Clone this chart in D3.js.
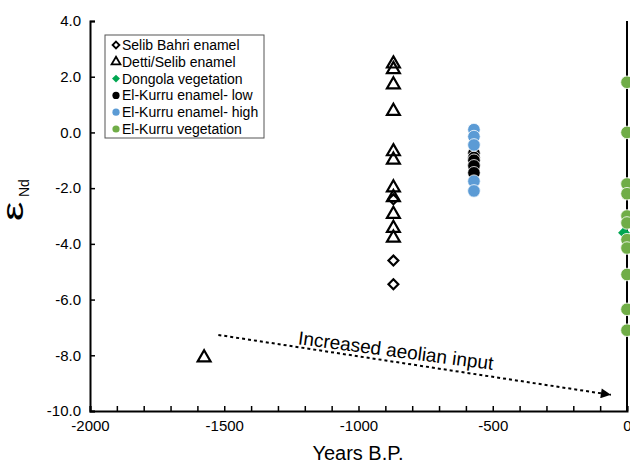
<!DOCTYPE html>
<html><head><meta charset="utf-8">
<script src="https://cdn.jsdelivr.net/npm/d3@7"></script>
<style>
html,body{margin:0;padding:0;background:#fff;}
text{font-family:"Liberation Sans",Arial,sans-serif;}
</style></head>
<body><svg id="c" width="630" height="461"></svg>
<script>
// ---- data ----
const xTicks = [-2000, -1500, -1000, -500, 0];
const yTicks = [4, 2, 0, -2, -4, -6, -8, -10];
const selibX = [-870, -870, -870];
const selibY = [-2.4, -4.6, -5.45];
const dettiX = [-870,-870,-870,-870,-870,-870,-870,-870,-870,-870,-870,-1575];
const dettiY = [2.5, 2.3, 1.75, 0.8, -0.65, -0.95, -1.95, -2.3, -2.9, -3.4, -3.75, -8.05];
const dongolaX = [0];
const dongolaY = [-3.6];
const kurruLowX = [-570,-570,-570,-570,-570];
const kurruLowY = [-0.75, -0.9, -1.0, -1.2, -1.45];
const kurruHighX = [-570,-570,-570,-570,-570];
const kurruHighY = [0.1, -0.15, -0.45, -1.75, -2.1];
const vegX = [0,0,0,0,0,0,0,0,0,0,0];
const vegY = [1.8, 0.0, -1.85, -2.2, -3.0, -3.25, -3.85, -4.15, -5.1, -6.35, -7.1];
const legendLabels = ["Selib Bahri enamel","Detti/Selib enamel","Dongola vegetation","El-Kurru enamel- low","El-Kurru enamel- high","El-Kurru vegetation"];
const arrowFrom = [-1522, -7.27];
const arrowTo = [-60, -9.42];
const arrowLabel = "Increased aeolian input";

const svg = d3.select("#c");
const x = d3.scaleLinear().domain([-2000, 0]).range([90, 627]);
const y = d3.scaleLinear().domain([-10, 4]).range([411, 21]);

// axes
const xAxis = d3.axisBottom(x).tickValues(d3.range(-2000, 1, 100)).tickSize(-5).tickFormat(d => xTicks.includes(d) ? String(d) : "");
const gx = svg.append("g").attr("transform", `translate(0,${y(-10)})`).call(xAxis);
gx.select(".domain").attr("stroke","#000").attr("stroke-width",2);
gx.selectAll(".tick line").attr("stroke","#000").attr("stroke-width",1.5);
gx.selectAll(".tick text").attr("font-size",15).attr("fill","#000").attr("dy","1.1em")
  .text(d => xTicks.includes(d) ? String(d) : "");

const yAxis = d3.axisLeft(y).tickValues(yTicks).tickSize(-5).tickPadding(9);
const gy = svg.append("g").attr("transform", `translate(${x(-2000)},0)`).call(yAxis);
gy.select(".domain").attr("stroke","#000").attr("stroke-width",2);
gy.selectAll(".tick line").attr("stroke","#000").attr("stroke-width",1.5);
gy.selectAll(".tick text").attr("font-size",15).attr("fill","#000").text(d => d.toFixed(1));

// right vertical line
svg.append("line").attr("x1", x(0)).attr("x2", x(0)).attr("y1", y(4)).attr("y2", y(-10)).attr("stroke","#000").attr("stroke-width",2);

// axis titles
svg.append("text").attr("x", 358).attr("y", 460).attr("text-anchor","middle").attr("font-size",20).text("Years B.P.");
svg.append("text").attr("transform","translate(23,221) rotate(-90) scale(1.45,1)").attr("font-size",30).text("ε");
svg.append("text").attr("transform","translate(29,197) rotate(-90)").attr("font-size",14).text("Nd");

// marks
const tri = d3.symbol().type(d3.symbolTriangle).size(72);
const dia = d3.symbol().type(d3.symbolDiamond2).size(62);
const diaFill = d3.symbol().type(d3.symbolDiamond2).size(90);

svg.append("g").selectAll("path").data(selibX.map((v,i)=>[v, selibY[i]])).join("path")
  .attr("d", dia).attr("transform", d=>`translate(${x(d[0])},${y(d[1])})`)
  .attr("fill","#fff").attr("stroke","#000").attr("stroke-width",2.2);
svg.append("g").selectAll("path").data(dettiX.map((v,i)=>[v, dettiY[i]])).join("path")
  .attr("d", tri).attr("transform", d=>`translate(${x(d[0])},${y(d[1])+1})`)
  .attr("fill","none").attr("stroke","#000").attr("stroke-width",2.2);
svg.append("g").selectAll("path").data(dongolaX.map((v,i)=>[v, dongolaY[i]])).join("path")
  .attr("d", diaFill).attr("transform", d=>`translate(${x(d[0])-3},${y(d[1])})`)
  .attr("fill","#00A651");
svg.append("g").selectAll("circle").data(kurruLowX.map((v,i)=>[v, kurruLowY[i]])).join("circle")
  .attr("cx", d=>x(d[0])).attr("cy", d=>y(d[1])).attr("r",6.3)
  .attr("fill","#000").attr("stroke","#fff").attr("stroke-width",0.8);
svg.append("g").selectAll("circle").data(kurruHighX.map((v,i)=>[v, kurruHighY[i]])).join("circle")
  .attr("cx", d=>x(d[0])).attr("cy", d=>y(d[1])).attr("r",6.3)
  .attr("fill","#5B9BD5").attr("stroke","#fff").attr("stroke-width",0.8);
svg.append("g").selectAll("circle").data(vegX.map((v,i)=>[v, vegY[i]])).join("circle")
  .attr("cx", d=>x(d[0])).attr("cy", d=>y(d[1])).attr("r",6.3)
  .attr("fill","#70AD47").attr("stroke","#fff").attr("stroke-width",0.8);

// arrow annotation
const defs = svg.append("defs");
defs.append("marker").attr("id","ah").attr("viewBox","0 0 10 10").attr("refX",10).attr("refY",5)
  .attr("markerWidth",6).attr("markerHeight",5).attr("markerUnits","strokeWidth").attr("orient","auto")
  .append("path").attr("d","M0,0L10,5L0,10Z").attr("fill","#000");
svg.append("line").attr("x1", x(arrowFrom[0])).attr("y1", y(arrowFrom[1]))
  .attr("x2", x(arrowTo[0])).attr("y2", y(arrowTo[1]))
  .attr("stroke","#000").attr("stroke-width",2).attr("stroke-dasharray","3,3").attr("marker-end","url(#ah)");
svg.append("text").attr("transform","translate(395,357) rotate(7.5)").attr("text-anchor","middle")
  .attr("font-size",19).text(arrowLabel);

// legend
const lg = svg.append("g");
lg.append("rect").attr("x",105).attr("y",35).attr("width",159).attr("height",103).attr("fill","#fff").attr("stroke","#555").attr("stroke-width",1);
const ly0 = 45, lstep = 16.8;
legendLabels.forEach((lab,i)=>{
  const cy = ly0 + i*lstep, mx = 116;
  let m;
  if(i===0) m = lg.append("path").attr("d", d3.symbol().type(d3.symbolDiamond2).size(30)).attr("fill","#fff").attr("stroke","#000").attr("stroke-width",1.8);
  else if(i===1) m = lg.append("path").attr("d", d3.symbol().type(d3.symbolTriangle).size(34)).attr("fill","none").attr("stroke","#000").attr("stroke-width",1.8);
  else if(i===2) m = lg.append("path").attr("d", d3.symbol().type(d3.symbolDiamond2).size(40)).attr("fill","#00A651");
  else m = lg.append("circle").attr("r",3.6).attr("fill", ["#000","#5B9BD5","#70AD47"][i-3]);
  m.attr("transform",`translate(${mx},${cy})`);
  lg.append("text").attr("x",122).attr("y",cy+5).attr("font-size",14).text(lab);
});
</script></body></html>
